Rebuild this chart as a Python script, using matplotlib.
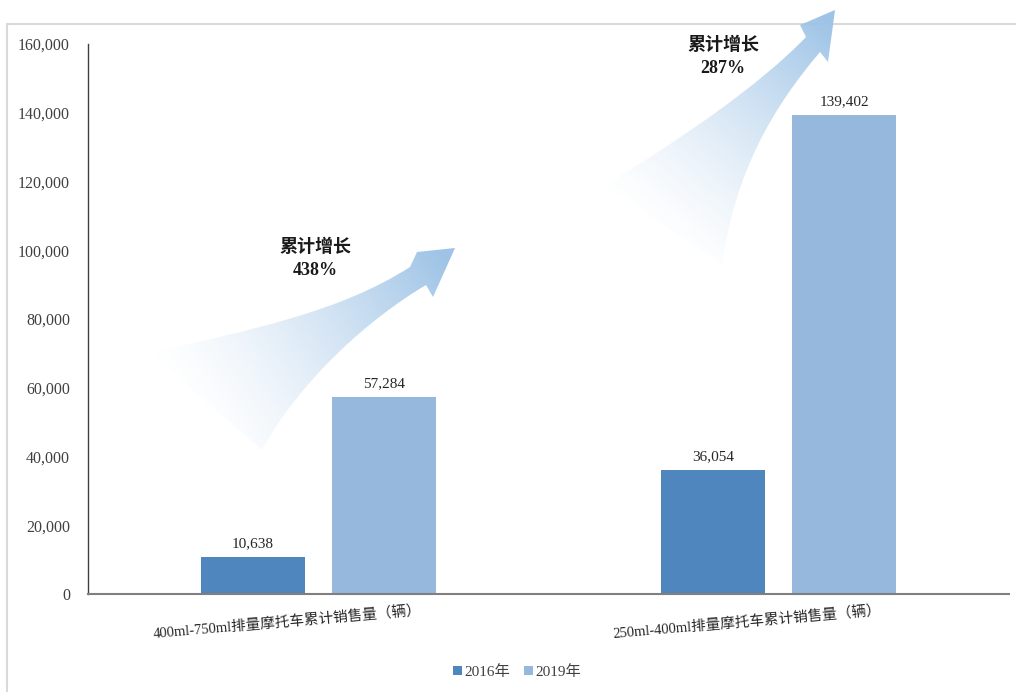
import numpy as np
import matplotlib
matplotlib.use("Agg")
import matplotlib.pyplot as plt
from matplotlib.path import Path
from matplotlib.patches import PathPatch, Rectangle
from matplotlib.ticker import FuncFormatter

plt.rcParams['font.family'] = ['Liberation Serif', 'Noto Sans CJK SC']

# ===== data =====
categories = ['400ml-750ml排量摩托车累计销售量（辆）', '250ml-400ml排量摩托车累计销售量（辆）']
series_names = ['2016年', '2019年']
sales_2016 = [10638, 36054]
sales_2019 = [57284, 139402]
growth_labels = ['累计增长\n438%', '累计增长\n287%']
y_ticks = [0, 20000, 40000, 60000, 80000, 100000, 120000, 140000, 160000]

c2016 = '#4F86BD'
c2019 = '#97B8DD'
arrow_color = np.array([157, 195, 230]) / 255.0

W, H = 1016, 692
fig = plt.figure(figsize=(W / 100, H / 100), dpi=100)

# light frame around chart
fig.patches.append(Rectangle((7 / W, -0.2), 1.3, 1.2 - 24 / H, transform=fig.transFigure,
                             fill=False, edgecolor='#D9D9D9', lw=1.5, zorder=0))

# ===== gradient arrows (overlay in pixel coords) =====
ov = fig.add_axes([0, 0, 1, 1], zorder=1)
ov.set_xlim(0, W)
ov.set_ylim(H, 0)
ov.axis('off')
ov.patch.set_alpha(0)

def grad_arrow(verts, codes, start, end):
    path = Path(verts, codes)
    patch = PathPatch(path, facecolor='none', edgecolor='none')
    ov.add_patch(patch)
    yy, xx = np.mgrid[0:H, 0:W]
    d = np.array(end, float) - np.array(start, float)
    t = ((xx - start[0]) * d[0] + (yy - start[1]) * d[1]) / (d @ d)
    t = np.clip(t, 0, 1)
    img = np.zeros((H, W, 4))
    img[..., :3] = arrow_color
    img[..., 3] = t ** 1.4
    im = ov.imshow(img, extent=(0, W, H, 0), origin='upper', interpolation='bilinear')
    im.set_clip_path(patch)

M, L, C, Z = Path.MOVETO, Path.LINETO, Path.CURVE4, Path.CLOSEPOLY
a1 = [(150, 353), (250, 330), (340, 312), (410, 267), (417, 252), (455, 248),
      (433, 297), (426, 285), (370, 318), (300, 380), (262, 450), (150, 353)]
c1 = [M, C, C, C, L, L, L, L, C, C, C, Z]
grad_arrow(a1, c1, (190, 420), (445, 255))

a2 = [(605, 185), (680, 140), (760, 85), (806, 37), (800, 25), (835, 10),
      (828, 62), (820, 52), (775, 105), (735, 170), (722, 265), (605, 185)]
c2 = [M, C, C, C, L, L, L, L, C, C, C, Z]
grad_arrow(a2, c2, (650, 235), (830, 20))

# ===== bar chart =====
ax = fig.add_axes([88 / W, 98 / H, (1009 - 88) / W, (594 - 44) / H], zorder=2)
ax.patch.set_alpha(0)
x = np.arange(len(categories))
bw = 0.226
off = 0.142
b1 = ax.bar(x - off, sales_2016, bw, color=c2016, label=series_names[0])
b2 = ax.bar(x + off, sales_2019, bw, color=c2019, label=series_names[1])

for bars, vals in [(b1, sales_2016), (b2, sales_2019)]:
    for r, v in zip(bars, vals):
        ax.annotate(f'{v:,}', (r.get_x() + r.get_width() / 2, v), xytext=(0, 5),
                    textcoords='offset points', ha='center', va='bottom',
                    fontsize=11, color='#262626')

ax.set_xlim(-0.5, 1.5)
ax.set_ylim(0, 160000)
ax.set_yticks(y_ticks)
ax.yaxis.set_major_formatter(FuncFormatter(lambda v, p: f'{int(v):,}'))
ax.tick_params(axis='y', length=0, pad=13, labelsize=11.5, labelcolor='#404040')
ax.set_xticks([])
for s in ['top', 'right']:
    ax.spines[s].set_visible(False)
ax.spines['left'].set_color('#404040')
ax.spines['left'].set_linewidth(1)
ax.spines['bottom'].set_color('#7F7F7F')
ax.spines['bottom'].set_linewidth(1.5)

# category labels, slightly tilted
for i, cat in enumerate(categories):
    ax.text(i - 0.068, -0.052, cat, transform=ax.get_xaxis_transform(), rotation=5,
            ha='center', va='center', fontsize=10.5, color='#262626',
            rotation_mode='anchor')

# growth annotations
ax.text(-0.006, 97400, growth_labels[0], ha='center', va='center', fontsize=13,
        fontweight='bold', linespacing=1.45, color='#1a1a1a')
ax.text(0.879, 156200, growth_labels[1], ha='center', va='center', fontsize=13,
        fontweight='bold', linespacing=1.45, color='#1a1a1a', clip_on=False)

fig.legend(handles=[b1, b2], loc='center', bbox_to_anchor=(517 / W, 1 - 672 / H),
           ncol=2, frameon=False, fontsize=11, handlelength=0.6, handleheight=0.6,
           handletextpad=0.15, columnspacing=0.9, labelcolor='#404040')

fig.savefig('out.png', dpi=100)
